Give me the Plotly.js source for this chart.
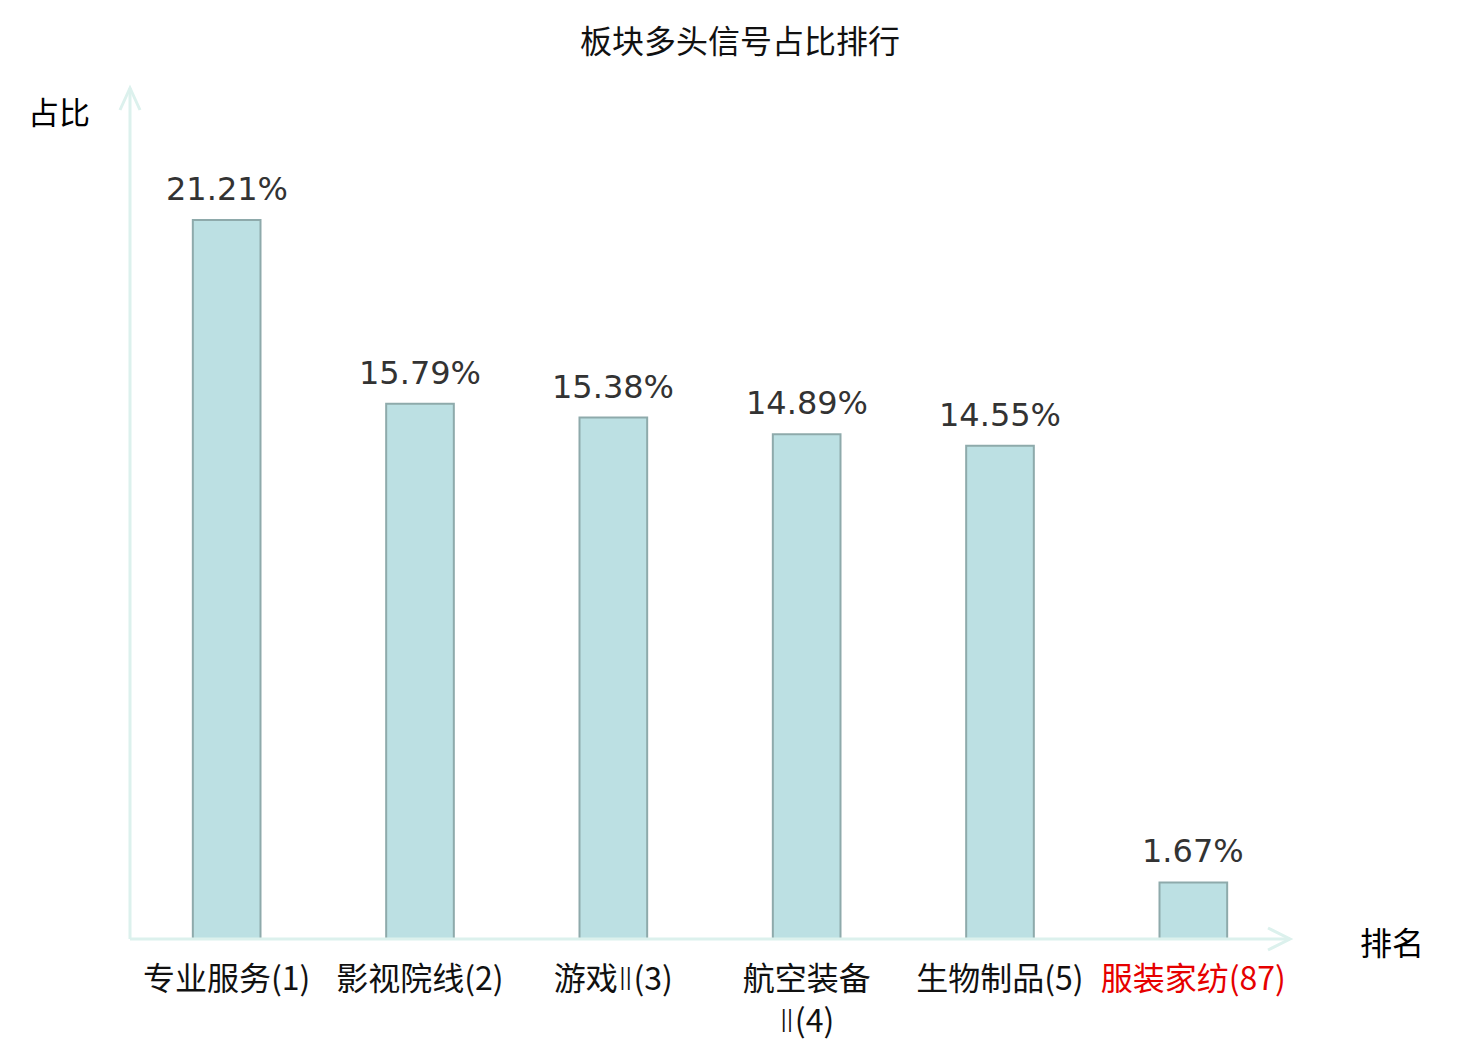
<!DOCTYPE html>
<html>
<head>
<meta charset="utf-8">
<script src="https://cdn.plot.ly/plotly-3.0.1.min.js"></script>
<style>
  html, body { margin: 0; padding: 0; background: #fff; }
  #chart { width: 1480px; height: 1040px; }
</style>
</head>
<body>
<div id="chart"></div>
<script>
// sector names with their rank, share of long signals in %
var sectors = ['专业服务(1)', '影视院线(2)', '游戏Ⅱ(3)', '航空装备<br>Ⅱ(4)', '生物制品(5)', '服装家纺(87)'];
var shares = [21.21, 15.79, 15.38, 14.89, 14.55, 1.67];
var shareLabels = ['21.21%', '15.79%', '15.38%', '14.89%', '14.55%', '1.67%'];
var highlight = [false, false, false, false, false, true]; // own sector drawn in red

var CJK = '"Noto Sans CJK SC", "Noto Sans", sans-serif';
var NUM = '"DejaVu Sans", sans-serif';
var axisColor = '#dcf1ed';

var margin = {l: 130, r: 190, t: 88, b: 101};
var plotW = 1480 - margin.l - margin.r;
var plotH = 1040 - margin.t - margin.b;

// pixel position -> paper fraction
function px(x){ return (x - margin.l) / plotW; }
function py(y){ return 1 - (y - margin.t) / plotH; }

// the roman numeral is narrow in the reference, CJK font gives it wide gaps
var ticktext = sectors.map(function(s, i){
	s = s.replace('Ⅱ', '<span style="font-family:DejaVu Sans;font-weight:200">Ⅱ</span>');
	return highlight[i] ? '<span style="color:#e60000">' + s + '</span>' : s;
});

var trace = {
	type: 'bar',
	x: sectors,
	y: shares,
	width: 0.35,
	marker: {color: '#bce0e3', line: {color: '#8eaaab', width: 2}},
	hoverinfo: 'none'
};

// value labels above every bar
var annotations = sectors.map(function(s, i){
	return {
		x: s, y: shares[i], xref: 'x', yref: 'y',
		text: shareLabels[i], showarrow: false,
		yanchor: 'bottom', yshift: 10,
		font: {family: NUM, size: 32, color: '#333333'}
	};
});
// axis names
annotations.push({
	x: px(92), y: py(110), xref: 'paper', yref: 'paper',
	xanchor: 'right', yanchor: 'middle', text: '占比', showarrow: false,
	font: {family: CJK, size: 31, color: '#000'}
});
annotations.push({
	x: px(1358), y: py(941), xref: 'paper', yref: 'paper',
	xanchor: 'left', yanchor: 'middle', text: '排名', showarrow: false,
	font: {family: CJK, size: 32, color: '#000'}
});

// axis lines with open arrow heads
var ax = 22 / plotW, ay = 11 / plotH;   // x-arrow arm size
var bx = 10 / plotW, by = 22 / plotH;   // y-arrow arm size
var lineStyle = {color: axisColor, width: 3};
var shapes = [
	{type: 'line', xref: 'paper', yref: 'paper', x0: 0, y0: 0, x1: 1, y1: 0, line: lineStyle},
	{type: 'line', xref: 'paper', yref: 'paper', x0: 0, y0: 0, x1: 0, y1: 1, line: lineStyle},
	{type: 'path', xref: 'paper', yref: 'paper', line: lineStyle,
		path: 'M' + (1 - ax) + ',' + ay + ' L1,0 L' + (1 - ax) + ',' + (-ay)},
	{type: 'path', xref: 'paper', yref: 'paper', line: lineStyle,
		path: 'M' + (-bx) + ',' + (1 - by) + ' L0,1 L' + bx + ',' + (1 - by)}
];

var layout = {
	width: 1480, height: 1040,
	margin: margin,
	paper_bgcolor: '#fff', plot_bgcolor: '#fff',
	showlegend: false,
	title: {
		text: '板块多头信号占比排行',
		x: 0.5, xref: 'container', xanchor: 'center',
		y: 1 - 42 / 1040, yref: 'container', yanchor: 'middle',
		font: {family: CJK, size: 32, color: '#111'}
	},
	xaxis: {
		type: 'category',
		range: [-0.5, 5.5],
		tickvals: sectors, ticktext: ticktext,
		showline: false, showgrid: false, zeroline: false, ticks: '',
		ticklabelstandoff: 18,
		tickfont: {family: CJK, size: 32, color: '#111'},
		fixedrange: true
	},
	yaxis: {
		range: [0, 25.1],
		showline: false, showgrid: false, zeroline: false,
		showticklabels: false, ticks: '',
		fixedrange: true
	},
	annotations: annotations,
	shapes: shapes
};

Plotly.newPlot('chart', [trace], layout, {displayModeBar: false, staticPlot: true});
</script>
</body>
</html>
